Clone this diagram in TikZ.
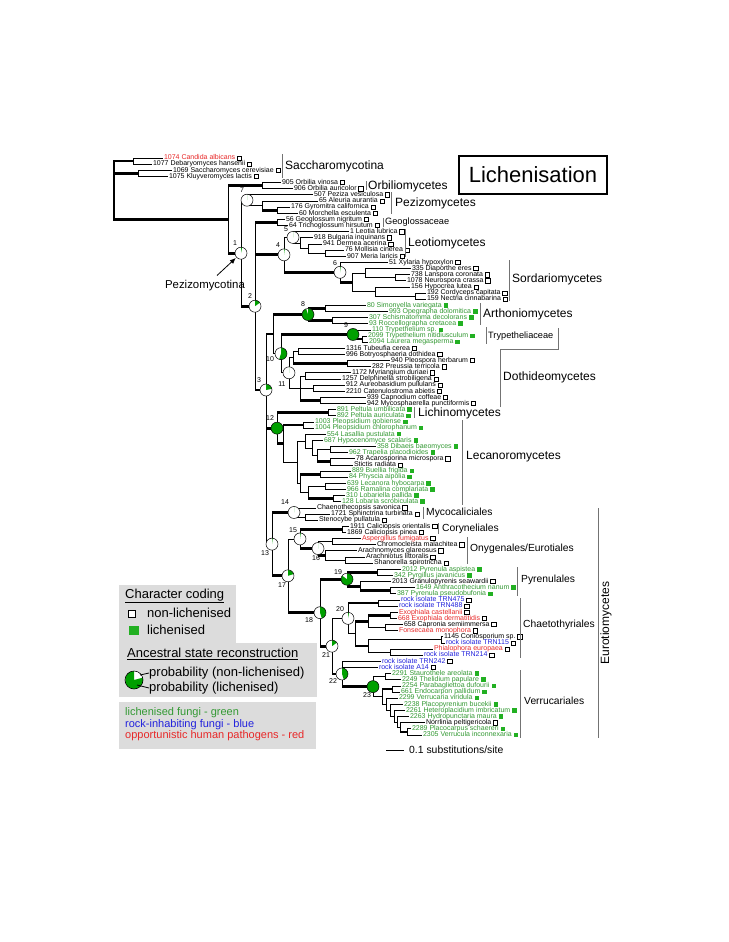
\documentclass[tikz,border=0pt]{standalone}
\usepackage{fontspec}
\setmainfont{Liberation Sans}
\usetikzlibrary{arrows.meta,positioning,calc}
\definecolor{LichGreen}{HTML}{339933}
\definecolor{BoxGreen}{HTML}{22B022}
\definecolor{PieGreen}{HTML}{00A000}
\definecolor{RockBlue}{HTML}{2222DD}
\definecolor{PathRed}{HTML}{E82828}
\definecolor{LegendGrey}{HTML}{DCDCDC}

\tikzset{
  branch/.style={line width=0.7pt},
  strong/.style={line width=2.8pt},
  taxon/.style={anchor=west, inner sep=0.8pt, font=\fontsize{7}{8}\selectfont, text height=5pt, text depth=1.4pt},
  nonlich/.style={draw, fill=white, line width=0.45pt, minimum size=4.3pt, inner sep=0pt},
  lich/.style={fill=BoxGreen, minimum size=4.5pt, inner sep=0pt},
  cladebar/.style={black!55, line width=1pt},
  classname/.style={anchor=west, inner sep=0pt, font=\fontsize{12}{14}\selectfont},
  ordername/.style={anchor=west, inner sep=0pt, font=\fontsize{10.3}{12}\selectfont},
  familyname/.style={anchor=west, inner sep=0pt, font=\fontsize{9.2}{11}\selectfont},
  numlab/.style={inner sep=0pt, font=\fontsize{7}{8}\selectfont},
  legendtext/.style={anchor=west, inner sep=0pt, font=\fontsize{13}{15}\selectfont},
  legendsmall/.style={anchor=west, inner sep=0pt, font=\fontsize{11}{12}\selectfont},
}

% leaf: index, tip x, colour, name, marker
\newcommand{\taxon}[5]{%
  \coordinate (l#1) at (#2,{158+(#1-1)*6.138});
  \node[taxon,text=#3] (t#1) at (l#1) {#4};
  \node[#5,right=0.8pt of t#1] (b#1) {};}
% inner node: name, x, first child, last child
\newcommand{\innode}[4]{\path let \p1=($(#3)!.5!(#4)$) in (#2pt,\y1) coordinate (#1);}
\newcommand{\twig}[2]{\draw[branch] (#1) |- (#2);}
\newcommand{\stwig}[2]{\draw[branch] (#1) |- (#2);\draw[strong] (#1 |- #2) -- (#2);}
% ancestral state pie: node, green fraction, number, label offset
\newcommand{\nodepie}[4]{%
  \fill[white] (#1) circle[radius=6];
  \fill[PieGreen] (#1) -- ++(-90:6) arc[start angle=-90, delta angle={360*#2}, radius=6] -- cycle;
  \draw[line width=0.5pt] (#1) circle[radius=6];
  \node[numlab] (#1lab) at ($(#1)+(#4)$) {#3};}

\begin{document}
\begin{tikzpicture}[x=1pt,y=-1pt]
\path[use as bounding box, fill=white] (0,0) rectangle (728,942);

% legend boxes
\fill[LegendGrey] (119,585) rectangle (236,643);
\fill[LegendGrey] (119,643) rectangle (317,697);
\fill[LegendGrey] (119,702) rectangle (316,749);

% taxa
\taxon{1}{163}{PathRed}{1074 Candida albicans}{nonlich}
\taxon{2}{152}{black}{1077 Debaryomyces hansenii}{nonlich}
\taxon{3}{172}{black}{1069 Saccharomyces cerevisiae}{nonlich}
\taxon{4}{168}{black}{1075 Kluyveromyces lactis}{nonlich}
\taxon{5}{281}{black}{905 Orbilia vinosa}{nonlich}
\taxon{6}{293}{black}{906 Orbilia auricolor}{nonlich}
\taxon{7}{313}{black}{507 Peziza vesiculosa}{nonlich}
\taxon{8}{318}{black}{65 Aleuria aurantia}{nonlich}
\taxon{9}{290}{black}{176 Gyromitra californica}{nonlich}
\taxon{10}{298}{black}{60 Morchella esculenta}{nonlich}
\taxon{11}{285}{black}{56 Geoglossum nigritum}{nonlich}
\taxon{12}{288}{black}{64 Trichoglossum hirsutum}{nonlich}
\taxon{13}{349}{black}{1 Leotia lubrica}{nonlich}
\taxon{14}{313}{black}{918 Bulgaria inquinans}{nonlich}
\taxon{15}{322}{black}{941 Dermea acerina}{nonlich}
\taxon{16}{344}{black}{76 Mollisia cinerea}{nonlich}
\taxon{17}{346}{black}{907 Meria laricis}{nonlich}
\taxon{18}{388}{black}{51 Xylaria hypoxylon}{nonlich}
\taxon{19}{411}{black}{335 Diaporthe eres}{nonlich}
\taxon{20}{410}{black}{738 Lanspora coronata}{nonlich}
\taxon{21}{406}{black}{1078 Neurospora crassa}{nonlich}
\taxon{22}{410}{black}{156 Hypocrea lutea}{nonlich}
\taxon{23}{426}{black}{192 Cordyceps capitata}{nonlich}
\taxon{24}{426}{black}{159 Nectria cinnabarina}{nonlich}
\taxon{25}{366}{LichGreen}{80 Simonyella variegata}{lich}
\taxon{26}{388}{LichGreen}{993 Opegrapha dolomitica}{lich}
\taxon{27}{368}{LichGreen}{307 Schismatomma decolorans}{lich}
\taxon{28}{368}{LichGreen}{93 Roccellographa cretacea}{lich}
\taxon{29}{371}{LichGreen}{110 Trypethelium sp.}{lich}
\taxon{30}{367}{LichGreen}{2099 Trypethelium nitidiusculum}{lich}
\taxon{31}{368}{LichGreen}{2094 Laurera megasperma}{lich}
\taxon{32}{345}{black}{1316 Tubeufia cerea}{nonlich}
\taxon{33}{345}{black}{996 Botryosphaeria dothidea}{nonlich}
\taxon{34}{390}{black}{940 Pleospora herbarum}{nonlich}
\taxon{35}{371}{black}{282 Preussia terricola}{nonlich}
\taxon{36}{351}{black}{1172 Myriangium duriaei}{nonlich}
\taxon{37}{341}{black}{1257 Delphinella strobiligena}{nonlich}
\taxon{38}{345}{black}{912 Aureobasidium pullulans}{nonlich}
\taxon{39}{345}{black}{2210 Catenulostroma abietis}{nonlich}
\taxon{40}{366}{black}{939 Capnodium coffeae}{nonlich}
\taxon{41}{366}{black}{942 Mycosphaerella punctiformis}{nonlich}
\taxon{42}{336}{LichGreen}{891 Peltula umbilicata}{lich}
\taxon{43}{336}{LichGreen}{892 Peltula auriculata}{lich}
\taxon{44}{314}{LichGreen}{1003 Pleopsidium gobiense}{lich}
\taxon{45}{314}{LichGreen}{1004 Pleopsidium chlorophanum}{lich}
\taxon{46}{326}{LichGreen}{554 Lasallia pustulata}{lich}
\taxon{47}{323}{LichGreen}{687 Hypocenomyce scalaris}{lich}
\taxon{48}{376}{LichGreen}{358 Dibaeis baeomyces}{lich}
\taxon{49}{348}{LichGreen}{962 Trapelia placodioides}{lich}
\taxon{50}{355}{black}{78 Acarosporina microspora}{nonlich}
\taxon{51}{353}{black}{Stictis radiata}{nonlich}
\taxon{52}{351}{LichGreen}{889 Buellia frigida}{lich}
\taxon{53}{348}{LichGreen}{84 Physcia aipolia}{lich}
\taxon{54}{346}{LichGreen}{639 Lecanora hybocarpa}{lich}
\taxon{55}{346}{LichGreen}{966 Ramalina complanata}{lich}
\taxon{56}{345}{LichGreen}{310 Lobariella pallida}{lich}
\taxon{57}{341}{LichGreen}{128 Lobaria scrobiculata}{lich}
\taxon{58}{316}{black}{Chaenothecopsis savonica}{nonlich}
\taxon{59}{330}{black}{1721 Sphinctrina turbinata}{nonlich}
\taxon{60}{318}{black}{Stenocybe pullatula}{nonlich}
\taxon{61}{349}{black}{1911 Caliciopsis orientalis}{nonlich}
\taxon{62}{346}{black}{1869 Caliciopsis pinea}{nonlich}
\taxon{63}{361}{PathRed}{Aspergillus fumigatus}{nonlich}
\taxon{64}{376}{black}{Chromocleista malachitea}{nonlich}
\taxon{65}{357}{black}{Arachnomyces glareosus}{nonlich}
\taxon{66}{365}{black}{Arachniotus littoralis}{nonlich}
\taxon{67}{373}{black}{Shanorella spirotricha}{nonlich}
\taxon{68}{401}{LichGreen}{2012 Pyrenula aspistea}{lich}
\taxon{69}{393}{LichGreen}{342 Pyrgillus javanicus}{lich}
\taxon{70}{391}{black}{2013 Granulopyrenis seawardii}{nonlich}
\taxon{71}{415}{LichGreen}{1649 Anthracothecium nanum}{lich}
\taxon{72}{396}{LichGreen}{387 Pyrenula pseudobufonia}{lich}
\taxon{73}{400}{RockBlue}{rock isolate TRN475}{nonlich}
\taxon{74}{398}{RockBlue}{rock isolate TRN488}{nonlich}
\taxon{75}{398}{PathRed}{Exophiala castellanii}{nonlich}
\taxon{76}{397}{PathRed}{668 Exophiala dermatitidis}{nonlich}
\taxon{77}{403}{black}{658 Capronia semiimmersa}{nonlich}
\taxon{78}{398}{PathRed}{Fonsecaea monophora}{nonlich}
\taxon{79}{443}{black}{1145 Coniosporium sp.}{nonlich}
\taxon{80}{445}{RockBlue}{rock isolate TRN115}{nonlich}
\taxon{81}{433}{PathRed}{Phialophora europaea}{nonlich}
\taxon{82}{423}{RockBlue}{rock isolate TRN214}{nonlich}
\taxon{83}{381}{RockBlue}{rock isolate TRN242}{nonlich}
\taxon{84}{378}{RockBlue}{rock isolate A14}{nonlich}
\taxon{85}{391}{LichGreen}{2291 Staurothele areolata}{lich}
\taxon{86}{401}{LichGreen}{2249 Thelidium papulare}{lich}
\taxon{87}{401}{LichGreen}{2254 Parabagliettoa dufourii}{lich}
\taxon{88}{400}{LichGreen}{661 Endocarpon pallidum}{lich}
\taxon{89}{398}{LichGreen}{2299 Verrucaria viridula}{lich}
\taxon{90}{403}{LichGreen}{2238 Placopyrenium bucekii}{lich}
\taxon{91}{405}{LichGreen}{2261 Heteroplacidium imbricatum}{lich}
\taxon{92}{409}{LichGreen}{2263 Hydropunctaria maura}{lich}
\taxon{93}{425}{black}{Norrlinia peltigericola}{nonlich}
\taxon{94}{411}{LichGreen}{2289 Placocarpus schaereri}{lich}
\taxon{95}{422}{LichGreen}{2305 Verrucula inconnexaria}{lich}

% inner nodes
\innode{sA}{133}{l1}{l2}
\innode{sB}{138}{l3}{l4}
\innode{orb}{262}{l5}{l6}
\innode{pz2}{277}{l9}{l10}
\innode{pz}{262}{l8}{pz2}
\innode{n7}{247}{l7}{pz}
\innode{geo}{277}{l11}{l12}
\innode{n5d}{325}{l16}{l17}
\innode{n5c}{308}{l15}{n5d}
\innode{n5b}{300}{l14}{n5c}
\innode{n5}{293}{l13}{n5b}
\innode{n6e}{395}{l20}{l21}
\innode{n6c}{365}{l19}{n6e}
\innode{n6f}{415}{l23}{l24}
\innode{n6d}{375}{l22}{n6f}
\innode{n6b}{352}{n6c}{n6d}
\innode{n6}{340}{l18}{n6b}
\innode{n4}{284}{n5}{n6}
\innode{n8a}{325}{l25}{l26}
\innode{n8b}{332}{l27}{l28}
\innode{n8}{308}{n8a}{n8b}
\innode{n9b}{362}{l30}{l31}
\innode{n9}{353}{l29}{n9b}
\innode{np1}{298}{l32}{l33}
\innode{np2}{347}{l34}{l35}
\innode{np}{293}{np1}{np2}
\innode{nd1}{305}{l36}{l37}
\innode{nd2}{313}{l38}{l39}
\innode{nd3}{320}{l40}{l41}
\innode{nd}{300}{nd1}{nd3}
\innode{n11}{289}{np}{nd}
\innode{n10}{281}{n9}{n11}
\innode{na}{273}{n8}{n10}
\innode{nl}{328}{l42}{l43}
\innode{npl}{303}{l44}{l45}
\innode{nle7}{330}{l48}{l49}
\innode{nle8}{330}{l50}{l51}
\innode{nle6}{317}{nle7}{nle8}
\innode{nle5}{312}{l47}{nle6}
\innode{nle3}{305}{l46}{nle5}
\innode{nle9}{320}{l52}{l53}
\innode{nle11}{325}{l54}{l55}
\innode{nle12}{333}{l56}{l57}
\innode{nle10}{308}{nle11}{nle12}
\innode{nle4}{300}{nle9}{nle10}
\innode{nle2}{297}{nle3}{nle4}
\innode{nle}{283}{npl}{nle2}
\innode{n12}{277}{nl}{nle}
\innode{n14b}{305}{l59}{l60}
\innode{n14}{294}{l58}{n14b}
\innode{ncor}{342}{l61}{l62}
\innode{neu}{332}{l63}{l64}
\innode{non2}{345}{l66}{l67}
\innode{non}{325}{l65}{non2}
\innode{n16}{318}{neu}{non}
\innode{n15}{300}{ncor}{n16}
\innode{npy1}{377}{l68}{l69}
\innode{npy3}{390}{l71}{l72}
\innode{npy2}{360}{l70}{npy3}
\innode{n19}{347}{npy1}{npy2}
\innode{nr1}{378}{l73}{l74}
\innode{nex1}{390}{l75}{l76}
\innode{nex2}{385}{l77}{l78}
\innode{nex}{368}{nex1}{nex2}
\innode{nco}{441}{l79}{l80}
\innode{nphi}{390}{l81}{l82}
\innode{nph}{368}{nco}{nphi}
\innode{nch}{355}{nex}{nph}
\innode{n20}{348}{nr1}{nch}
\innode{nv8}{407}{l94}{l95}
\innode{nv7}{400}{l93}{nv8}
\innode{nv6}{397}{l92}{nv7}
\innode{nv5}{394}{l91}{nv6}
\innode{nv4}{390}{l90}{nv5}
\innode{nv3}{386}{l89}{nv4}
\innode{nv1}{392}{l87}{l88}
\innode{nv2}{382}{nv1}{nv3}
\innode{nv0}{385}{l85}{l86}
\innode{n23}{373}{nv0}{nv2}
\innode{n22}{342}{l83}{n23}
\innode{n21}{332}{n20}{n22}
\innode{n18}{320}{n19}{n21}
\innode{n17}{288}{n15}{n18}
\innode{n13}{272}{n14}{n17}
\coordinate (n3) at (266,390);
\innode{n2}{255}{geo}{n3}
\innode{n1}{241}{n7}{n2}
\innode{pez}{228}{orb}{n1}
\innode{root}{114}{sA}{pez}

% branches
\draw[strong] (root) |- (sA);
\draw[strong] (root) |- (sB);
\draw[strong] (root) |- (pez);
\twig{sA}{l1} \twig{sA}{l2} \twig{sB}{l3} \twig{sB}{l4}
\stwig{pez}{orb} \stwig{pez}{n1}
\twig{orb}{l5} \twig{orb}{l6}
\twig{n1}{n7} \stwig{n1}{n2}
\twig{n7}{l7} \twig{n7}{pz} \twig{pz}{l8} \stwig{pz}{pz2} \twig{pz2}{l9} \twig{pz2}{l10}
\stwig{n2}{geo} \stwig{n2}{n4} \stwig{n2}{n3}
\twig{geo}{l11} \twig{geo}{l12}
\twig{n4}{n5} \stwig{n4}{n6}
\twig{n5}{l13} \twig{n5}{n5b} \twig{n5b}{l14} \twig{n5b}{n5c}
\twig{n5c}{l15} \twig{n5c}{n5d} \twig{n5d}{l16} \twig{n5d}{l17}
\twig{n6}{l18} \stwig{n6}{n6b} \twig{n6b}{n6c} \twig{n6b}{n6d}
\twig{n6c}{l19} \twig{n6c}{n6e} \twig{n6e}{l20} \twig{n6e}{l21}
\twig{n6d}{l22} \twig{n6d}{n6f} \twig{n6f}{l23} \twig{n6f}{l24}
\stwig{n3}{na} \stwig{n3}{n12} \twig{n3}{n13}
\stwig{na}{n8} \twig{na}{n10}
\stwig{n8}{n8a} \stwig{n8}{n8b}
\twig{n8a}{l25} \twig{n8a}{l26} \twig{n8b}{l27} \twig{n8b}{l28}
\stwig{n10}{n9} \twig{n10}{n11}
\twig{n9}{l29} \stwig{n9}{n9b} \twig{n9b}{l30} \twig{n9b}{l31}
\twig{n11}{np} \twig{n11}{nd}
\twig{np}{np1} \stwig{np}{np2}
\twig{np1}{l32} \twig{np1}{l33} \twig{np2}{l34} \twig{np2}{l35}
\twig{nd}{nd1} \twig{nd}{nd2} \stwig{nd}{nd3}
\twig{nd1}{l36} \twig{nd1}{l37} \twig{nd2}{l38} \twig{nd2}{l39} \twig{nd3}{l40} \twig{nd3}{l41}
\stwig{n12}{nl} \stwig{n12}{nle}
\twig{nl}{l42} \twig{nl}{l43}
\stwig{nle}{npl} \twig{nle}{nle2}
\twig{npl}{l44} \twig{npl}{l45}
\twig{nle2}{nle3} \twig{nle2}{nle4}
\twig{nle3}{l46} \twig{nle3}{nle5} \twig{nle5}{l47} \twig{nle5}{nle6}
\twig{nle6}{nle7} \stwig{nle6}{nle8}
\twig{nle7}{l48} \twig{nle7}{l49} \twig{nle8}{l50} \twig{nle8}{l51}
\stwig{nle4}{nle9} \twig{nle4}{nle10} \twig{nle9}{l52} \twig{nle9}{l53}
\twig{nle10}{nle11} \stwig{nle10}{nle12}
\twig{nle11}{l54} \twig{nle11}{l55} \twig{nle12}{l56} \twig{nle12}{l57}
\stwig{n13}{n14} \stwig{n13}{n17}
\twig{n14}{l58} \twig{n14}{n14b} \twig{n14b}{l59} \twig{n14b}{l60}
\twig{n17}{n15} \stwig{n17}{n18}
\stwig{n15}{ncor} \stwig{n15}{n16}
\twig{ncor}{l61} \twig{ncor}{l62}
\twig{n16}{neu} \stwig{n16}{non}
\twig{neu}{l63} \twig{neu}{l64} \twig{non}{l65} \twig{non}{non2} \twig{non2}{l66} \twig{non2}{l67}
\stwig{n18}{n19} \stwig{n18}{n21}
\stwig{n19}{npy1} \stwig{n19}{npy2}
\twig{npy1}{l68} \twig{npy1}{l69} \twig{npy2}{l70} \stwig{npy2}{npy3}
\twig{npy3}{l71} \twig{npy3}{l72}
\twig{n21}{n20} \stwig{n21}{n22}
\stwig{n20}{nr1} \twig{n20}{nch}
\twig{nr1}{l73} \twig{nr1}{l74}
\stwig{nch}{nex} \stwig{nch}{nph}
\stwig{nex}{nex1} \twig{nex}{nex2}
\twig{nex1}{l75} \twig{nex1}{l76} \twig{nex2}{l77} \twig{nex2}{l78}
\twig{nph}{nco} \twig{nph}{nphi}
\twig{nco}{l79} \twig{nco}{l80} \twig{nphi}{l81} \twig{nphi}{l82}
\twig{n22}{l83} \twig{n22}{l84} \stwig{n22}{n23}
\twig{n23}{nv0} \twig{n23}{nv2}
\twig{nv0}{l85} \twig{nv0}{l86}
\stwig{nv2}{nv1} \twig{nv2}{nv3}
\twig{nv1}{l87} \twig{nv1}{l88}
\twig{nv3}{l89} \twig{nv3}{nv4} \twig{nv4}{l90} \twig{nv4}{nv5}
\twig{nv5}{l91} \twig{nv5}{nv6} \twig{nv6}{l92} \twig{nv6}{nv7}
\twig{nv7}{l93} \stwig{nv7}{nv8} \twig{nv8}{l94} \twig{nv8}{l95}

% ancestral states
\nodepie{n1}{0.03}{1}{-6,-10}
\nodepie{n2}{0.15}{2}{-5,-10}
\nodepie{n3}{0.22}{3}{-7,-10}
\nodepie{n4}{0.02}{4}{-6,-10}
\nodepie{n5}{0.003}{5}{-7,-8}
\nodepie{n6}{0.02}{6}{-5,-9}
\nodepie{n7}{0.003}{7}{-5,-10}
\nodepie{n8}{0.95}{8}{-5,-10}
\nodepie{n9}{1}{9}{-7,-9}
\nodepie{n10}{0.55}{10}{-11,5}
\nodepie{n11}{0.003}{11}{-7,11}
\nodepie{n12}{1}{12}{-7,-10}
\nodepie{n13}{0.02}{13}{-7,9}
\nodepie{n14}{0.003}{14}{-9,-10}
\nodepie{n15}{0.02}{15}{-7,-9}
\nodepie{n16}{0.003}{16}{-2,10}
\nodepie{n17}{0.2}{17}{-6,9}
\nodepie{n18}{0.45}{18}{-11,7}
\nodepie{n19}{0.85}{19}{-9,-7}
\nodepie{n20}{0.03}{20}{-8,-9}
\nodepie{n21}{0.15}{21}{-6,9}
\nodepie{n22}{0.45}{22}{-9,7}
\nodepie{n23}{1}{23}{-6,8}

% clade names
\draw[cladebar] (282,154) -- (282,178);
\node[classname] (saccharo) at (285,166) {Saccharomycotina};
\draw[cladebar] (366,181) -- (366,190);
\node[classname] (orbilio) at (368,186) {Orbiliomycetes};
\draw[cladebar] (391,192) -- (391,214);
\node[classname] (pezizo) at (395,203) {Pezizomycetes};
\draw[cladebar] (383,218) -- (383,227);
\node[familyname] (geogloss) at (385,222) {Geoglossaceae};
\draw[cladebar] (405,229) -- (405,257);
\node[classname] (leotio) at (408,243) {Leotiomycetes};
\draw[cladebar] (509,260) -- (509,301);
\node[classname] (sordario) at (512,279) {Sordariomycetes};
\draw[cladebar] (480,303) -- (480,325);
\node[classname] (arthonio) at (483,314) {Arthoniomycetes};
\draw[cladebar] (486,327) -- (486,344);
\node[familyname] (trypeth) at (488,336) {Trypetheliaceae};
\draw[cladebar] (500,407) -- (500,349) -- (558,349) -- (558,328);
\node[classname] (dothideo) at (503,377) {Dothideomycetes};
\draw[cladebar] (414,407) -- (414,418);
\node[classname] (lichino) at (418,413) {Lichinomycetes};
\draw[cladebar] (462,420) -- (462,505);
\node[classname] (lecanoro) at (466,457) {Lecanoromycetes};
\draw[cladebar] (423,507) -- (423,519);
\node[ordername] (mycocal) at (426,513) {Mycocaliciales};
\draw[cladebar] (438,523) -- (438,534);
\node[ordername] (corynel) at (442,529) {Coryneliales};
\draw[cladebar] (467,537) -- (467,564);
\node[ordername] (onygen) at (470,549) {Onygenales/Eurotiales};
\draw[cladebar] (517,567) -- (517,596);
\node[ordername] (pyrenul) at (521,580) {Pyrenulales};
\draw[cladebar] (520,598) -- (520,658);
\node[ordername] (chaeto) at (523,625) {Chaetothyriales};
\draw[cladebar] (520,670) -- (520,738);
\node[ordername] (verruc) at (524,701) {Verrucariales};
\draw[cladebar] (598,508) -- (598,738);
\node[classname, anchor=center, rotate=90] (euro) at (606,623) {Eurotiomycetes};

% title
\node[draw, line width=1.6pt, minimum width=148, minimum height=38, inner sep=0pt,
  font=\fontsize{22}{24}\selectfont] (title) at (533,175) {Lichenisation};

% Pezizomycotina pointer
\node[inner sep=0pt, font=\fontsize{11.4}{13}\selectfont] (pzlab) at (205,286) {Pezizomycotina};
\draw[-{Latex[length=6pt,width=5pt]}, line width=0.8pt, shorten >=7pt]
  ($(pzlab.north)+(12,-5)$) -- (n1);

% scale bar
\coordinate (sb1) at (386,750);
\coordinate (sb2) at (404,750);
\draw[line width=0.8pt] (sb1) -- (sb2);
\node[anchor=west, inner sep=0pt, font=\fontsize{10.4}{12}\selectfont] (sblab) at (409,750) {0.1 substitutions/site};

% legend
\node[legendtext] (cctitle) at (125,596) {\underline{Character coding}};
\node[nonlich, minimum size=6.5pt, line width=0.7pt] (legbox1) at (132,614) {};
\node[legendtext] (legnon) at (147,613) {non-lichenised};
\node[lich, minimum width=10pt, minimum height=9pt] (legbox2) at (134,630.5) {};
\node[legendtext] (leglich) at (147,630) {lichenised};
\node[legendtext] (asrtitle) at (127,654) {\underline{Ancestral state reconstruction}};
\coordinate (legpie) at (134,680);
\fill[white] (legpie) circle[radius=9];
\fill[PieGreen] (legpie) -- ++(-15:9) arc[start angle=-15, delta angle=285, radius=9] -- cycle;
\draw[line width=0.6pt] (legpie) circle[radius=9];
\node[legendtext] (probnon) at (149,673) {probability (non-lichenised)};
\node[legendtext] (problich) at (149,688) {probability (lichenised)};
\coordinate (wpt) at (140,675);
\coordinate (gpt) at (137,685);
\draw[line width=0.8pt] (wpt) -- (probnon.west);
\draw[line width=0.8pt] (gpt) -- (problich.west);
\node[legendsmall, text=LichGreen] (lg1) at (125,713) {lichenised fungi - green};
\node[legendsmall, text=RockBlue] (lg2) at (125,724.5) {rock-inhabiting fungi - blue};
\node[legendsmall, text=PathRed] (lg3) at (125,736) {opportunistic human pathogens - red};
\end{tikzpicture}
\end{document}
